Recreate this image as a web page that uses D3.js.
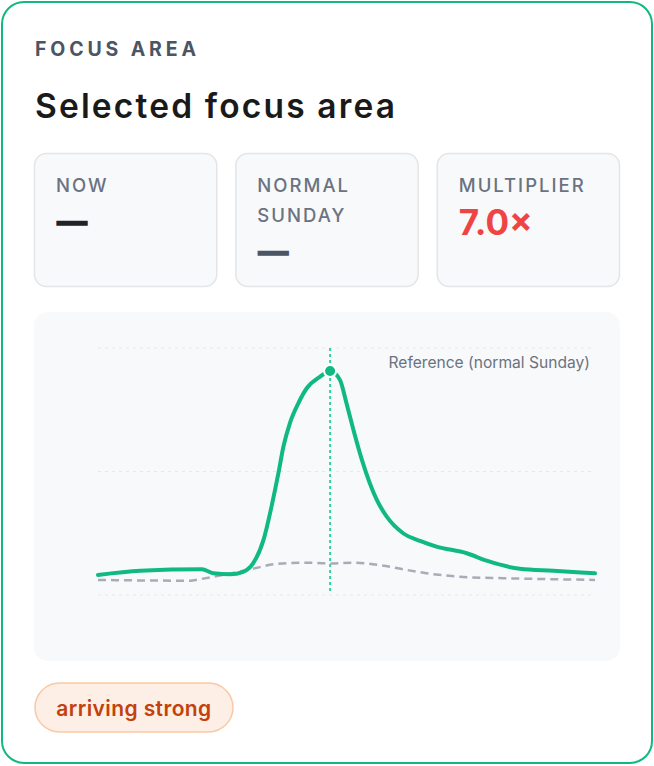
<!DOCTYPE html>
<html>
<head>
<meta charset="utf-8">
<script src="https://cdn.jsdelivr.net/npm/d3@7"></script>
<style>
  html, body { margin: 0; padding: 0; background: #fff; }
  svg { display: block; font-family: Inter, "Noto Sans", sans-serif; }
</style>
</head>
<body>
<div id="card"></div>
<script>
// Data
const stats = ['NOW', 'NORMAL SUNDAY', 'MULTIPLIER']
const statValues = ['—', '—', '7.0×']
const gridTicks = [0, 50, 100]

// position in the window (%) and activity level
const liveT = [0, 8.5, 20.9, 23.2, 26.6, 29.2, 31.2, 33.3, 34.9, 36.3, 37.3, 38.6, 40.3, 42, 44.7, 46.7,
  48.7, 50, 51.4, 53.1, 56.1, 58.1, 61.4, 64.8, 68.1, 74.2, 78.2, 84.9, 91.6, 100]
const liveValues = [8.1, 9.8, 10.4, 8.8, 8.4, 9.4, 12.8, 22.3, 35.7, 49.3, 60, 69.5, 77.6, 83.7, 88.4, 90.7,
  87, 77.6, 66.8, 54.7, 38.5, 31.7, 25, 21.9, 19.6, 16.9, 13.9, 10.6, 9.8, 8.8]

const refT = [0, 18.5, 20.5, 25.2, 30.6, 36, 41.3, 46.7, 51.3, 56.7, 61.4, 66.1, 72.8, 81.5, 91.6, 100]
const refValues = [6.1, 5.8, 6.4, 8.1, 10.4, 12.6, 13.1, 12.8, 13.1, 12.1, 10.4, 8.8, 7.4, 6.8, 6.4, 6.1]

const focusT = 46.7

// Canvas
const width = 654,
  height = 766

const svg = d3.select('#card')
  .append('svg')
  .attr('width', width)
  .attr('height', height)

// outer card
svg.append('rect')
  .attr('x', 2).attr('y', 2)
  .attr('width', width - 4).attr('height', height - 5)
  .attr('rx', 22)
  .attr('fill', '#fff')
  .attr('stroke', '#10b981')
  .attr('stroke-width', 2)

svg.append('text')
  .attr('x', 35).attr('y', 55.5)
  .attr('textLength', 161)
  .attr('lengthAdjust', 'spacing')
  .style('font-size', '19.5px')
  .style('font-weight', 700)
  .attr('fill', '#4b5563')
  .text('FOCUS AREA')

svg.append('text')
  .attr('x', 35).attr('y', 118)
  .attr('textLength', 360)
  .attr('lengthAdjust', 'spacing')
  .style('font-size', '33.5px')
  .style('font-weight', 600)
  .attr('fill', '#1a1a1a')
  .text('Selected focus area')

// stat boxes
const boxX = d3.scaleBand()
  .domain(stats)
  .range([34, 620])
  .paddingInner(0.09)

const boxes = svg.selectAll('g.stat')
  .data(stats)
  .enter()
  .append('g')
  .attr('class', 'stat')
  .attr('transform', d => `translate(${boxX(d)}, 153)`)

boxes.append('rect')
  .attr('x', 0.5).attr('y', 0.5)
  .attr('width', boxX.bandwidth() - 1)
  .attr('height', 133)
  .attr('rx', 12)
  .attr('fill', '#f8f9fb')
  .attr('stroke', '#e3e5e8')
  .attr('stroke-width', 1.5)

boxes.each(function (d, i) {
  const g = d3.select(this)
  const words = d === 'NORMAL SUNDAY' ? ['NORMAL', 'SUNDAY'] : [d]
  words.forEach((w, j) => {
    g.append('text')
      .attr('x', 22).attr('y', 38.5 + j * 30)
      .style('font-size', '18.5px')
      .style('font-weight', 500)
      .style('letter-spacing', '2px')
      .attr('fill', '#6b7280')
      .text(w)
  })
  const isMult = i === 2
  const colour = isMult ? '#ef4444' : (i === 0 ? '#1f2328' : '#4b5563')
  g.append('text')
    .attr('x', isMult ? 22 : 23).attr('y', (isMult ? 81.5 : 79) + (words.length - 1) * 30)
    .style('font-size', isMult ? '35px' : '30px')
    .style('font-weight', 700)
    .attr('fill', colour)
    .attr('stroke', isMult ? 'none' : colour)
    .attr('stroke-width', 1.3)
    .text(statValues[i])
})

// chart panel
svg.append('rect')
  .attr('x', 34).attr('y', 312)
  .attr('width', 586).attr('height', 349)
  .attr('rx', 14)
  .attr('fill', '#f8f9fb')

const xScale = d3.scaleLinear()
  .domain([0, 100])
  .range([98, 595])

const yScale = d3.scaleLinear()
  .domain([0, 100])
  .range([595, 348])

svg.append('g')
  .selectAll('line')
  .data(gridTicks)
  .enter()
  .append('line')
  .attr('x1', xScale(0)).attr('x2', xScale(100))
  .attr('y1', d => yScale(d)).attr('y2', d => yScale(d))
  .attr('stroke', '#e6e8eb')
  .attr('stroke-width', 1)
  .attr('stroke-dasharray', '3,4')

// focus marker
svg.append('line')
  .attr('x1', xScale(focusT)).attr('x2', xScale(focusT))
  .attr('y1', yScale(100)).attr('y2', yScale(1))
  .attr('stroke', '#34d399')
  .attr('stroke-width', 2)
  .attr('stroke-dasharray', '3,3')

const line = d3.line()
  .x(d => xScale(d[0]))
  .y(d => yScale(d[1]))
  .curve(d3.curveMonotoneX)

svg.append('path')
  .datum(d3.zip(refT, refValues))
  .attr('d', line)
  .attr('fill', 'none')
  .attr('stroke', '#a8acb6')
  .attr('stroke-width', 2.5)
  .attr('stroke-dasharray', '8,5')

svg.append('path')
  .datum(d3.zip(liveT, liveValues))
  .attr('d', line)
  .attr('fill', 'none')
  .attr('stroke', '#10b981')
  .attr('stroke-width', 4)
  .attr('stroke-linecap', 'round')
  .attr('stroke-linejoin', 'round')

const peak = liveValues[liveT.indexOf(focusT)]
svg.append('circle')
  .attr('cx', xScale(focusT))
  .attr('cy', yScale(peak))
  .attr('r', 6)
  .attr('fill', '#10b981')
  .attr('stroke', '#fff')
  .attr('stroke-width', 2)

svg.append('text')
  .attr('x', 590).attr('y', 367.5)
  .attr('text-anchor', 'end')
  .style('font-size', '15.6px')
  .attr('fill', '#6b7280')
  .text('Reference (normal Sunday)')

// status badge
svg.append('rect')
  .attr('x', 35).attr('y', 683)
  .attr('width', 198).attr('height', 49)
  .attr('rx', 24.5)
  .attr('fill', '#fdefe6')
  .attr('stroke', '#f9c9a5')
  .attr('stroke-width', 1.5)

svg.append('text')
  .attr('x', 134).attr('y', 715.5)
  .attr('text-anchor', 'middle')
  .style('font-size', '21px')
  .style('font-weight', 600)
  .style('letter-spacing', '0.4px')
  .attr('fill', '#c2410c')
  .text('arriving strong')
</script>
</body>
</html>
